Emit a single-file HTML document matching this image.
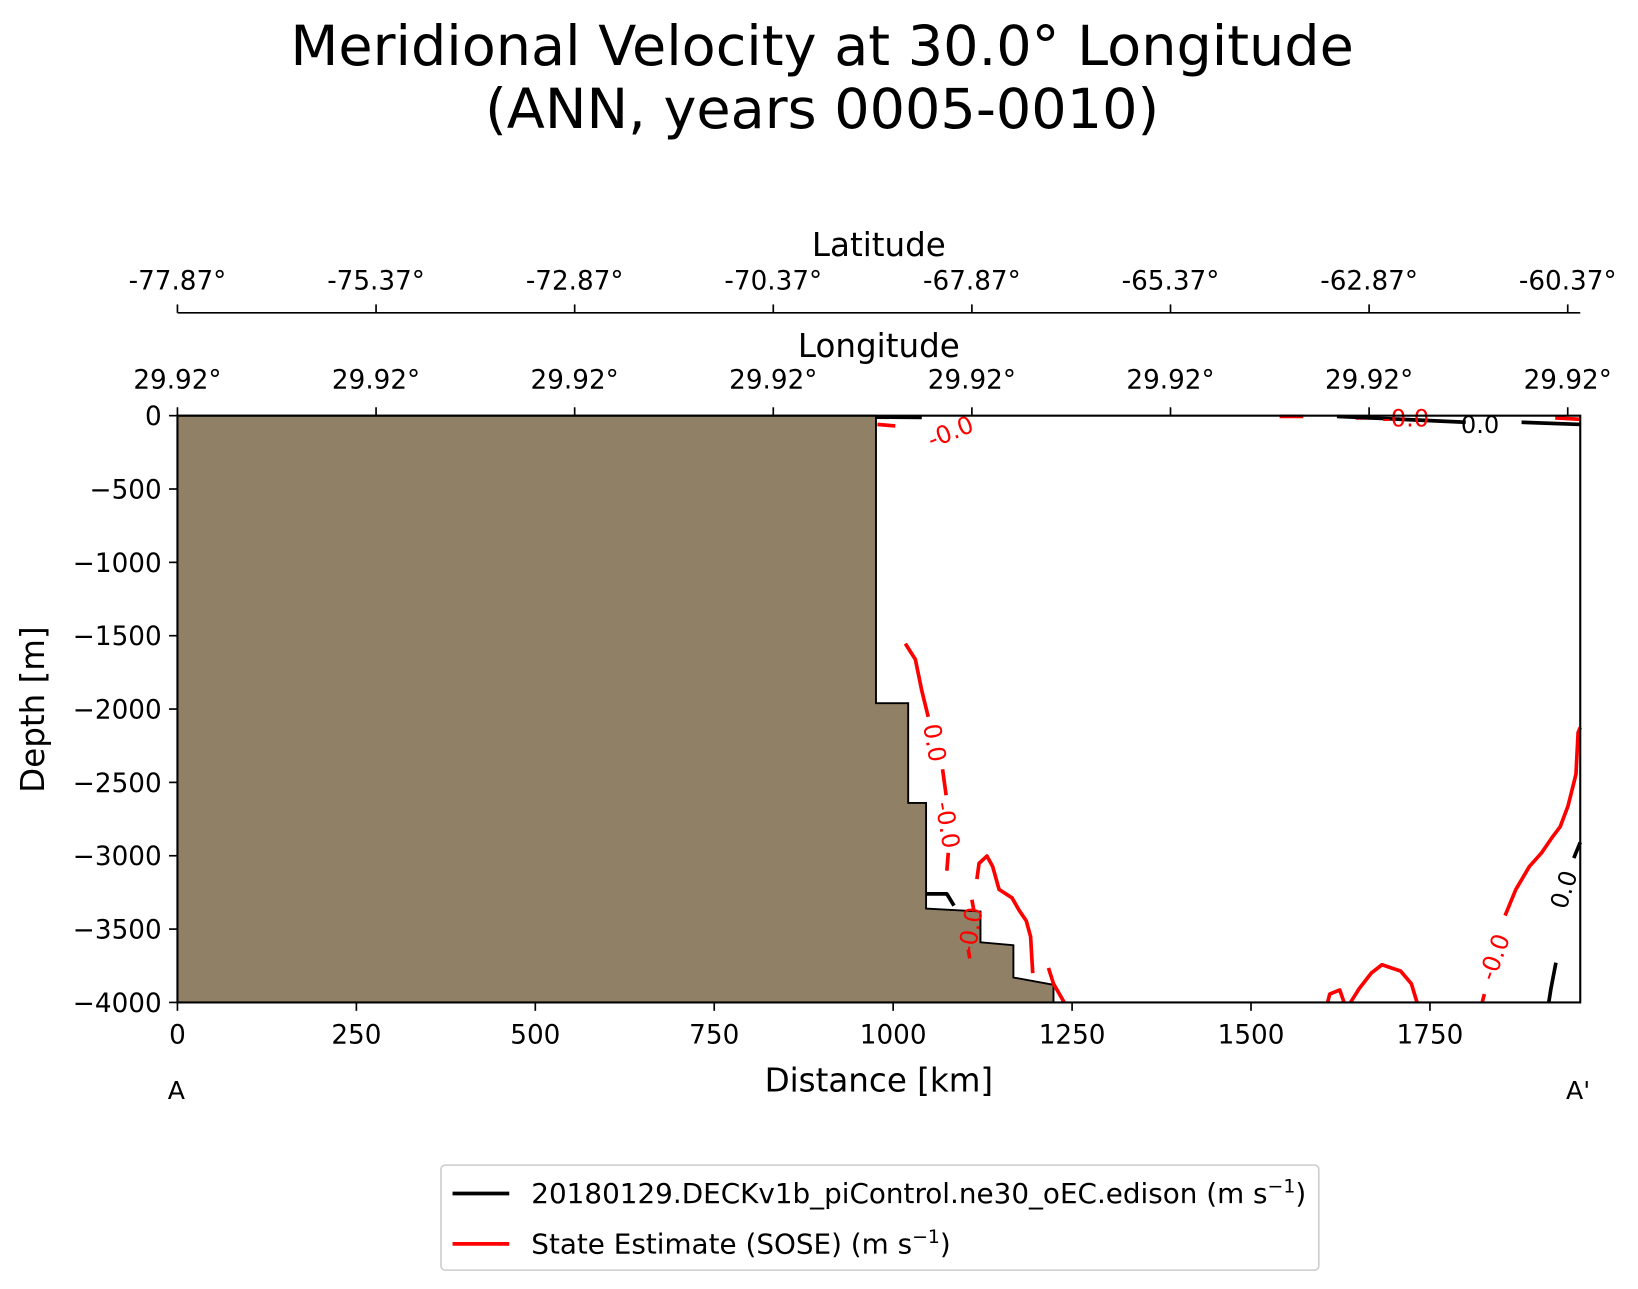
<!DOCTYPE html>
<html><head><meta charset="utf-8"><style>
html,body{margin:0;padding:0;background:#fff}
svg{display:block;font-family:"DejaVu Sans","Liberation Sans",sans-serif}
</style></head><body>
<svg id="chart" width="1638" height="1289" viewBox="0 0 1560 1228" preserveAspectRatio="none" xmlns="http://www.w3.org/2000/svg">
<text x="783" y="62" font-size="53" text-anchor="middle">Meridional Velocity at 30.0° Longitude</text>
<text x="783" y="122" font-size="53" text-anchor="middle">(ANN, years 0005-0010)</text>
<g id="plot"></g>
<g>
<rect x="420" y="1110" width="836" height="100" rx="4" fill="#fff" stroke="#ccc" stroke-width="1.5"/>
<line x1="431" y1="1137" x2="485" y2="1137" stroke="#000" stroke-width="3.5"/>
<text x="506" y="1146" font-size="26.5">20180129.DECKv1b_piControl.ne30_oEC.edison (m s<tspan font-size="18" dy="-10">−1</tspan><tspan dy="10">)</tspan></text>
<line x1="431" y1="1185" x2="485" y2="1185" stroke="#f00" stroke-width="3.5"/>
<text x="506" y="1194" font-size="26.5">State Estimate (SOSE) (m s<tspan font-size="18" dy="-10">−1</tspan><tspan dy="10">)</tspan></text>
</g>
</svg>
<script>
// ---- data ----
const xTicks = [0, 250, 500, 750, 1000, 1250, 1500, 1750];
const yTicks = [0, -500, -1000, -1500, -2000, -2500, -3000, -3500, -4000];
const latLabels = ["-77.87°","-75.37°","-72.87°","-70.37°","-67.87°","-65.37°","-62.87°","-60.37°"];
const lonLabels = ["29.92°","29.92°","29.92°","29.92°","29.92°","29.92°","29.92°","29.92°"];
const secTickKm = [0, 277.5, 555, 832.5, 1110, 1387.5, 1665, 1942.5];
const landKm =    [0, 976, 976, 1021, 1021, 1046, 1046, 1122, 1122, 1168, 1168, 1224, 1224, 0];
const landDepth = [0, 0, -1960, -1960, -2640, -2640, -3360, -3380, -3590, -3610, -3830, -3880, -4000, -4000];
const redKm = [
 [1017,1031,1040,1049],[1069,1074],[1077,1075],
 [1117,1120,1131,1139,1148,1166,1176,1186,1192,1195],
 [1217,1224,1239],[1110,1113],[1105,1107],
 [1607,1610,1624,1630],[1639,1651,1668,1683,1709,1724,1732],
 [1960,1957,1954,1943,1932,1921,1906,1889,1870,1855],[1826,1823],
 [978,1003],[1540,1573],[1646,1668],[1925,1960]
];
const redDepth = [
 [-1554,-1661,-1875,-2053],[-2410,-2588],[-2980,-3102],
 [-3159,-3052,-3002,-3073,-3230,-3287,-3372,-3444,-3551,-3800],
 [-3765,-3872,-4000],[-3300,-3380],[-3640,-3700],
 [-4000,-3943,-3915,-4000],[-4000,-3907,-3800,-3743,-3786,-3872,-4000],
 [-2125,-2160,-2445,-2659,-2802,-2873,-2980,-3073,-3230,-3408],[-3943,-4000],
 [-60,-70],[-5,-5],[-15,-15],[-15,-25]
];
const blackKm = [[976,1040],[1620,1800],[1878,1960],[1960,1951],[1926,1919,1916],[1046,1075,1085]];
const blackDepth = [[-10,-12],[-5,-45],[-45,-60],[-2909,-3016],[-3729,-3907,-4000],[-3260,-3260,-3340]];
const labels = [
 {t:"-0.0",km:1080,d:-110,r:-22,c:"#f00"},{t:"0.0",km:1058,d:-2230,r:80,c:"#f00"},
 {t:"-0.0",km:1076,d:-2790,r:80,c:"#f00"},{t:"-0.0",km:1108,d:-3510,r:-80,c:"#f00"},
 {t:"-0.0",km:1840,d:-3690,r:-70,c:"#f00"},{t:"-0.0",km:1716,d:-15,r:0,c:"#f00"},
 {t:"0.0",km:1820,d:-60,r:0,c:"#000"},{t:"0.0",km:1937,d:-3230,r:-72,c:"#000"}
];
// ---- axes ----
const X0=169,X1=1505,Y0=396,Y1=955,KMAX=1960;
const sx=v=>X0+(v/KMAX)*(X1-X0);
const sy=v=>Y0+(-v/4000)*(Y1-Y0);
const NS="http://www.w3.org/2000/svg";
const g=document.getElementById('plot');
function mk(tag,attrs,parent){const e=document.createElementNS(NS,tag);for(const k in attrs)e.setAttribute(k,attrs[k]);(parent||g).appendChild(e);return e;}
let pts=landKm.map((k,i)=>sx(k)+","+sy(landDepth[i])).join(" ");
const land=mk('polygon',{points:pts,fill:'#908166',stroke:'#000','stroke-width':1.8});


function lines(kms,ds,col,w,name){
 kms.forEach((arr,i)=>{
  const p=arr.map((k,j)=>sx(k)+","+sy(ds[i][j])).join(" ");
  const l=mk('polyline',{points:p,fill:'none',stroke:col,'stroke-width':w,'stroke-linejoin':'round'});
  
  
 });
}
lines(redKm,redDepth,'#f00',3.5,'sose-contour');
lines(blackKm,blackDepth,'#000',3.5,'model-contour');
labels.forEach(o=>{
 const x=sx(o.km),y=sy(o.d);
 const t=mk('text',{x:x,y:y+8,'font-size':23,fill:o.c,'text-anchor':'middle',transform:`rotate(${o.r} ${x} ${y})`});
 t.textContent=o.t;
 
 
});
const fr=mk('rect',{x:X0,y:Y0,width:X1-X0,height:Y1-Y0,fill:'none',stroke:'#000','stroke-width':2});


xTicks.forEach(v=>{
 mk('line',{x1:sx(v),x2:sx(v),y1:Y1,y2:Y1+8,stroke:'#000','stroke-width':1.6});
 const t=mk('text',{x:sx(v),y:Y1+39,'font-size':25,'text-anchor':'middle'});
 t.textContent=v;
 
 
});
yTicks.forEach(v=>{
 mk('line',{x1:X0-8,x2:X0,y1:sy(v),y2:sy(v),stroke:'#000','stroke-width':1.6});
 const t=mk('text',{x:X0-15,y:sy(v)+9,'font-size':25,'text-anchor':'end'});
 t.textContent=v===0?"0":"\u2212"+(-v);
 
 
});
const LATY=298;
mk('line',{x1:X0,x2:X1,y1:LATY,y2:LATY,stroke:'#000','stroke-width':1.6});
secTickKm.forEach((k,i)=>{
 const x=sx(k);
 mk('line',{x1:x,x2:x,y1:LATY-8,y2:LATY,stroke:'#000','stroke-width':1.6});
 mk('line',{x1:x,x2:x,y1:Y0-8,y2:Y0,stroke:'#000','stroke-width':1.6});
 const a=mk('text',{x:x,y:LATY-22,'font-size':25,'text-anchor':'middle'});a.textContent=latLabels[i];
 
 
 const b=mk('text',{x:x,y:Y0-26,'font-size':25,'text-anchor':'middle'});b.textContent=lonLabels[i];
 
 
});
function txt(s,x,y,fs,name,rot){const t=mk('text',{x:x,y:y,'font-size':fs,'text-anchor':'middle'});if(rot)t.setAttribute('transform',`rotate(${rot} ${x} ${y})`);t.textContent=s;
 
 }
txt("Latitude",837,244,31,'latitude-axis-title');
txt("Longitude",837,340,31,'longitude-axis-title');
txt("Distance [km]",837,1040,31,'x-axis-title');
txt("Depth [m]",42,676,31,'y-axis-title',-90);
txt("A",168,1047,24,'section-start-label');
txt("A'",1503,1047,24,'section-end-label');
</script>
</body></html>
